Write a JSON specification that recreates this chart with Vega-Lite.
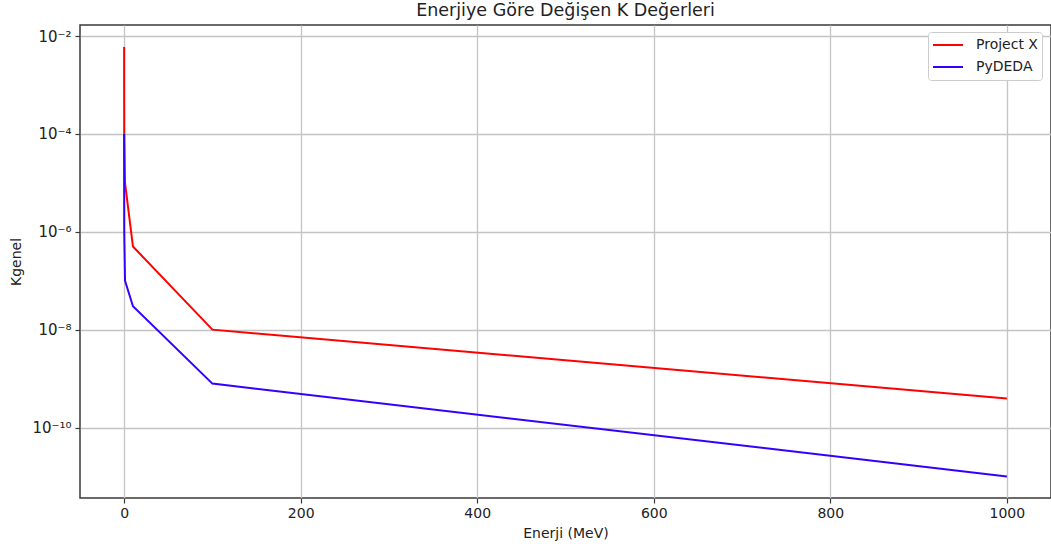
{
  "$schema": "https://vega.github.io/schema/vega-lite/v6.json",
  "autosize": {"type": "none"},
  "padding": {"left": 80, "top": 25, "right": 0, "bottom": 56},
  "width": 971,
  "height": 473,
  "background": "white",
  "title": {
    "text": "Enerjiye Göre Değişen K Değerleri",
    "font": "DejaVu Sans",
    "fontSize": 17.5,
    "fontWeight": "normal",
    "color": "#222222",
    "anchor": "middle",
    "offset": 6
  },
  "config": {
    "view": {"stroke": "#3a3a3a", "strokeWidth": 1.5},
    "axis": {
      "labelFont": "DejaVu Sans",
      "titleFont": "DejaVu Sans",
      "labelFontSize": 14,
      "titleFontSize": 14,
      "titleFontWeight": "normal",
      "labelColor": "#222222",
      "titleColor": "#222222",
      "domain": false,
      "tickColor": "#3a3a3a",
      "tickWidth": 1.2,
      "tickSize": 5,
      "gridColor": "#c4c4c4",
      "gridWidth": 1.3
    },
    "legend": {
      "labelFont": "DejaVu Sans",
      "labelFontSize": 14,
      "labelColor": "#222222"
    }
  },
  "data": {
    "values": [
      {"E": 0.001, "K": 0.006, "series": "Project X"},
      {"E": 0.01, "K": 0.001, "series": "Project X"},
      {"E": 0.1, "K": 0.0001, "series": "Project X"},
      {"E": 1, "K": 0.00001, "series": "Project X"},
      {"E": 10, "K": 5e-7, "series": "Project X"},
      {"E": 100, "K": 1e-8, "series": "Project X"},
      {"E": 1000, "K": 3.9e-10, "series": "Project X"},
      {"E": 0.001, "K": 0.0001, "series": "PyDEDA"},
      {"E": 0.01, "K": 0.00001, "series": "PyDEDA"},
      {"E": 0.1, "K": 0.000001, "series": "PyDEDA"},
      {"E": 1, "K": 1e-7, "series": "PyDEDA"},
      {"E": 10, "K": 3e-8, "series": "PyDEDA"},
      {"E": 100, "K": 7.9e-10, "series": "PyDEDA"},
      {"E": 1000, "K": 1e-11, "series": "PyDEDA"}
    ]
  },
  "mark": {"type": "line", "strokeWidth": 2, "clip": true},
  "encoding": {
    "x": {
      "field": "E",
      "type": "quantitative",
      "scale": {"domain": [-50, 1050], "nice": false, "zero": false},
      "axis": {
        "title": "Enerji (MeV)",
        "values": [0, 200, 400, 600, 800, 1000],
        "format": "d",
        "labelPadding": 3,
        "titlePadding": 6,
        "grid": true
      }
    },
    "y": {
      "field": "K",
      "type": "quantitative",
      "scale": {"type": "log", "domain": [3.63e-12, 0.0168], "nice": false, "zero": false},
      "axis": {
        "title": "Kgenel",
        "values": [0.01, 0.0001, 0.000001, 1e-8, 1e-10],
        "labelExpr": "datum.value > 1e-3 ? '10⁻²' : datum.value > 1e-5 ? '10⁻⁴' : datum.value > 1e-7 ? '10⁻⁶' : datum.value > 1e-9 ? '10⁻⁸' : '10⁻¹⁰'",
        "labelFontSize": 15,
        "labelPadding": 4,
        "titlePadding": 8,
        "grid": true
      }
    },
    "color": {
      "field": "series",
      "type": "nominal",
      "scale": {"domain": ["Project X", "PyDEDA"], "range": ["#ff0000", "#3300ff"]},
      "legend": {
        "title": null,
        "orient": "none",
        "legendX": 848,
        "legendY": 7,
        "symbolType": "stroke",
        "symbolSize": 900,
        "symbolStrokeWidth": 2,
        "clipHeight": 18,
        "labelOffset": 12,
        "rowPadding": 4,
        "padding": 4,
        "strokeColor": "#cccccc",
        "fillColor": "white",
        "cornerRadius": 3
      }
    }
  }
}
